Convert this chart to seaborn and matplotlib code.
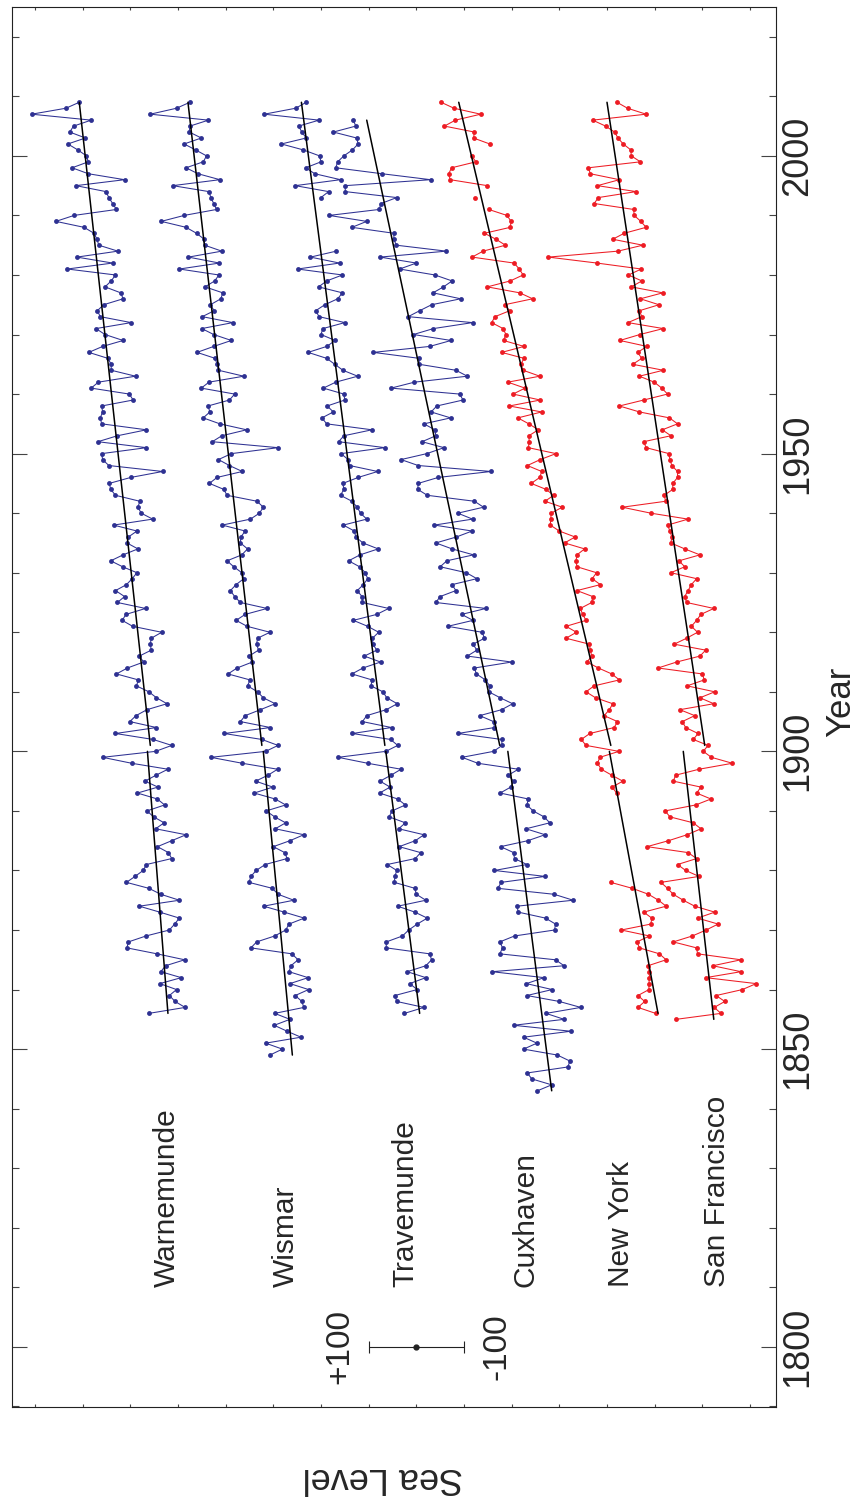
import numpy as np
import pandas as pd
import matplotlib
matplotlib.use('Agg')
import matplotlib.pyplot as plt
import seaborn as sns

nan = float('nan')

# ---------------- data ----------------
stations = ['Warnemunde', 'Wismar', 'Travemunde', 'Cuxhaven', 'New York', 'San Francisco']
start_years = [1856, 1849, 1856, 1843, 1856, 1855]
offsets = [1255, 1023, 761, 514, 293, 142]          # vertical stacking offsets (mm)
label_pos = [1223, 973, 722, 470, 271, 69]           # station label positions (mm axis)

warnemunde = [6, -70, -49, -37, -52, -17, -62, -19, -29, -69,
              -11, 52, 49, 12, -37, -48, -58, -17, 26, -58,
              -19, 6, 53, 35, 18, 11, -42, -35, -12, -42,
              -72, -8, -26, -4, 10, -27, -12, 30, -13, 14,
              -9, -34, 42, 103, -8, -42, -3, 76, -10, 46,
              33, 10, -32, -10, 6, 32, 28, 74, 51, 17,
              26, 1, 3, 1, -21, 40, 62, 54, 13, 72,
              57, 76, 53, 41, 31, 61, 86, 60, 29, 52,
              49, 31, 80, -2, 22, 29, 25, 76, 86, 89,
              44, -23, 90, 103, 105, 11, 113, 72, 11, 105,
              108, 103, 105, 39, 47, 127, 112, 34, 85, 85,
              92, 132, 103, 60, 98, 117, 43, 108, 114, 101,
              60, 65, 98, 85, 76, 177, 82, 157, 71, 111,
              115, 121, 142, 201, 163, 74, 82, 90, 96, 159,
              57, 133, 167, 133, 137, 155, 176, 139, 172, 164,
              127, 252, 180, 152]

wismar = [-16, -42, -7, -81, -52, -25, -58, -26, -87, -83,
          -69, -97, -58, -96, -56, -60, -75, -62, 24, 12,
          -26, -49, -56, -88, -46, -3, -66, -33, -21, 28,
          24, 13, -6, -52, -47, -23, -58, -87, -27, -49,
          -26, -8, -49, -27, 17, -22, 14, -12, -32, 42,
          108, -7, -33, 1, 80, -17, 46, 36, 4, -27,
          -2, 10, 31, 26, 72, 53, 21, 28, 8, 12,
          10, -16, 32, 55, 36, -10, 46, 58, 67, 55,
          39, 43, 60, 74, 43, 31, 46, 45, 36, 84,
          25, 6, -2, 11, 74, 81, 111, 95, 42, 69,
          92, 65, -33, 105, 85, 33, 89, 124, 110, 114,
          69, 58, 128, 112, 39, 92, 95, 99, 137, 102,
          65, 102, 127, 62, 126, 101, 109, 87, 83, 120,
          100, 91, 174, 90, 155, 85, 121, 122, 138, 160,
          212, 164, 96, 102, 108, 112, 188, 89, 135, 160,
          124, 117, 140, 164, 128, 153, 152, 113, 235, 180,
          152]

travemunde = [-36, -77, -20, -16, -63, -47, -81, -42, -81, -93,
              -89, 2, 2, -32, -45, -63, -84, -58, -22, -81,
              -61, -58, -15, -16, -20, 0, -59, -70, -25, -59,
              -77, -24, -38, -4, -10, -38, -22, 16, -6, 15,
              -8, -29, 41, 103, 3, -22, -7, 73, -9, 52,
              43, 2, -21, 1, 9, 34, 32, 74, 51, 14,
              48, 22, 30, 31, 18, 41, 71, 22, -3, 52,
              53, 63, 50, 41, 46, 58, 81, 57, 19, 51,
              66, 69, 92, 43, 56, 63, 74, 98, 91, 93,
              61, 20, 79, 82, 97, 5, 102, 91, 32, 127,
              137, 113, 126, 89, 91, 134, 108, 62, 93, 110,
              127, 166, 127, 109, 139, 135, 89, 143, 150, 131,
              104, 94, 144, 127, 94, 188, 100, 161, 107, nan,
              nan, nan, nan, nan, nan, nan, nan, 139, 123, 193,
              98, 152, 171, 139, 142, 176, 222, 170, 179, 186,
              143, 258, 192, 170]

cuxhaven = [-68, -98, -56, -47, -132, -136, -110, -39, -67, -39,
            -138, -18, -124, -86, -159, -114, -46, -99, -45, -82,
            27, -124, -106, 11, 5, 11, -20, -104, -106, -85,
            -28, -25, -143, -103, 15, 8, -84, 22, -46, -20,
            -18, 9, -48, -84, -44, -94, -82, -59, -46, -49,
            10, -12, -18, -7, -28, 57, 90, 24, 6, 7,
            99, 22, 24, 53, 7, -16, 10, 34, 32, 41,
            60, 64, -14, 79, 59, 67, 43, 48, 120, 67,
            91, 40, 145, 136, 103, 111, 59, 81, 136, 122,
            66, 111, 145, 102, 69, 148, 68, 99, 45, 64,
            163, 183, 182, 140, 29, 182, 218, 164, 128, 174,
            145, 147, 170, 114, 155, 143, 88, 95, 239, 190,
            79, 103, 180, 180, 276, 158, 113, 192, 150, 68,
            203, 179, 154, 93, 151, 129, 111, 147, 221, 186,
            262, 123, 228, 233, 233, 321, 290, 369, 264, 260,
            227, 335, 335, 156, 258, 355, 351, 338, 320, 308,
            311, 360, 313, 318]

new_york = [-95, -58, -72, -58, -81, -81, -82, -82, -79, -117,
            -103, -61, -56, -82, -23, -85, -87, -70, -117, -101,
            -80, -46, -1, nan, nan, nan, nan, nan, nan, nan,
            nan, nan, nan, nan, nan, nan, nan, -13, -4, -26,
            -3, 19, 27, 22, -18, 51, 61, 43, -8, -15,
            13, 2, -5, 31, 51, 34, -19, -3, 25, 49,
            39, 42, 44, 93, 71, 93, 51, 58, 63, 39,
            37, 70, 21, 38, 29, 70, 72, 70, 54, 96,
            74, 107, 126, 125, 124, 101, 137, 119, 135, 166,
            148, 144, 174, 147, 114, 172, 170, 171, 151, 171,
            194, 144, 212, 147, 204, 179, 215, 148, 183, 188,
            181, 228, 181, 224, 219, 225, 249, 242, 211, 222,
            163, 190, 258, 210, 183, 191, 202, 290, 267, 220,
            240, 264, 210, 208, 217, 255, nan, 283, nan, 258,
            336, 339, 333, 282, 291, nan, 253, 287, 285, 348,
            325, 272, 328, 355]

san_francisco = [13, -81, -67, -89, -71, -126, -155, -49, -123, -64,
                 -123, -32, -30, 19, -21, -50, -75, -32, -68, -26,
                 -2, 19, 31, 45, -35, -7, 10, -30, -12, 74,
                 29, -10, -39, -23, 26, 36, -28, -60, -30, -39,
                 19, 14, -35, -105, -61, -44, -54, -23, -33, -7,
                 0, -26, 5, -66, -37, -68, -10, -46, -42, 51,
                 12, -37, -49, 17, -9, -32, -19, -30, -39, -66,
                 -9, -5, -12, -19, -30, 24, -5, 7, -37, -5,
                 24, 22, 26, 31, -12, 66, 126, 35, 38, 20,
                 20, 10, 10, 22, 26, 28, 76, 81, 24, 42,
                 10, 27, 90, 132, 81, 31, 43, 59, 90, 40,
                 104, 85, 94, 74, 131, 89, 40, 114, 85, 90,
                 49, 88, 41, 107, 85, 113, 86, 179, 281, 135,
                 83, 146, 122, 76, 87, 101, 102, 185, 176, 97,
                 178, 132, 193, 197, 88, 107, 108, 124, 135, 142,
                 161, 188, 76, 115, 137]

# linear trend segments (before / after 1900)
trend_pre_years = [(1856, 1900), (1849, 1900), (1856, 1900), (1843, 1900), (1856, 1900), (1855, 1900)]
trend_pre_vals = [(-34, 9), (-63, -2), (-68, 3), (-98, -6), (-100, 2), (-66, -2)]
trend_post_years = [(1901, 2009), (1901, 2009), (1901, 2009), (1901, 2006), (1901, 2009), (1901, 2009)]
trend_post_vals = [(3, 152), (1, 156), (5, 180), (11, 290), (-1, 318), (-47, 158)]

scale_center = 700
scale_half = 100
scale_year = 1800

series = [warnemunde, wismar, travemunde, cuxhaven, new_york, san_francisco]
BLUE = '#2E3192'
RED = '#ED1C24'
colors = [BLUE, BLUE, BLUE, BLUE, RED, RED]

# ---------------- figure ----------------
sns.set_style('ticks')
plt.rcParams['font.family'] = ['Liberation Sans', 'DejaVu Sans']

W, H = 862, 1503
fig = plt.figure(figsize=(W / 100, H / 100), dpi=100)
ax = fig.add_axes([12 / W, 1 - 1407 / H, 764 / W, 1400 / H])

for name, start, off, vals, col in zip(stations, start_years, offsets, series, colors):
    v = np.asarray(vals, dtype=float)
    yrs = start + np.arange(len(v))
    seg = np.cumsum(np.isnan(v))
    m = ~np.isnan(v)
    df = pd.DataFrame({'year': yrs[m], 'level': off + v[m], 'seg': seg[m]})
    sns.lineplot(data=df, x='level', y='year', units='seg', estimator=None,
                 sort=False, orient='y', color=col, linewidth=0.75,
                 marker='o', markersize=3.5, markeredgewidth=0, ax=ax)

rows = []
for i, off in enumerate(offsets):
    for k, (yy, vv) in enumerate([(trend_pre_years[i], trend_pre_vals[i]),
                                  (trend_post_years[i], trend_post_vals[i])]):
        for y_, v_ in zip(yy, vv):
            rows.append({'year': y_, 'level': off + v_, 'seg': f'{i}-{k}'})
tr = pd.DataFrame(rows)
sns.lineplot(data=tr, x='level', y='year', units='seg', estimator=None, sort=False,
             orient='y', color='black', linewidth=1.1, ax=ax)

# scale bar
ax.errorbar([scale_center], [scale_year], xerr=[scale_half], fmt='o', color='#222222',
            ms=3.5, capsize=4.3, elinewidth=0.8, capthick=0.8)
ax.text(scale_center + scale_half + 60, scale_year, '+100', rotation=90,
        ha='center', va='center', fontsize=24)
ax.text(scale_center - scale_half - 69, scale_year, '-100', rotation=90,
        ha='center', va='center', fontsize=24)

for name, lp in zip(stations, label_pos):
    ax.text(lp, 1810, name, rotation=90, ha='center', va='bottom', fontsize=21.5)

# axes
ax.set_xlim(1548.1, -54.5)
ax.set_ylim(1789.9, 2025.0)
ax.set_xlabel('')
ax.set_ylabel('')
ax.set_xticks(np.arange(0, 1501, 100))
ax.set_xticklabels([])
ax.set_yticks(np.arange(1800, 2001, 50))
ax.set_yticks(np.arange(1790, 2021, 10), minor=True)
ax.tick_params(axis='x', which='both', direction='in', top=True, bottom=True,
               length=2.5, width=0.8, color='#444444')
ax.tick_params(axis='y', which='major', direction='in', left=True, right=True,
               labelleft=False, labelright=True, length=11, width=0.8,
               color='#444444', labelsize=26, labelrotation=90, pad=3)
ax.tick_params(axis='y', which='minor', direction='in', left=True, right=True,
               length=5, width=0.8, color='#444444')
for t in ax.get_yticklabels():
    t.set_va('center')
    t.set_ha('left')
for s in ax.spines.values():
    s.set_linewidth(0.8)
    s.set_color('#222222')

fig.text(841 / W, 1 - 702 / H, 'Year', rotation=90, ha='center', va='center', fontsize=25)
fig.text(383 / W, 1 - 1477 / H, 'Sea Level', rotation=180, ha='center', va='center', fontsize=26)

fig.savefig('out.png', dpi=100)
